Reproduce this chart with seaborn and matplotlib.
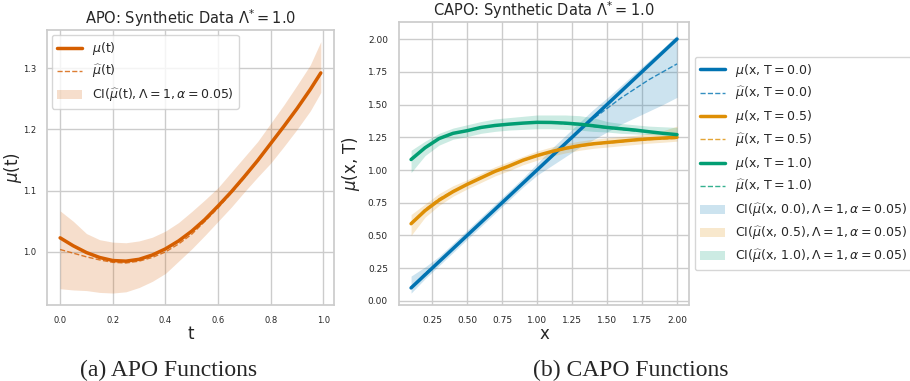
import numpy as np
import pandas as pd
import matplotlib
matplotlib.use('Agg')
import matplotlib.pyplot as plt
import seaborn as sns

# APO panel
t_vals = [0.00, 0.05, 0.10, 0.15, 0.20, 0.25, 0.30, 0.35, 0.40, 0.45, 0.50,
          0.55, 0.60, 0.65, 0.70, 0.75, 0.80, 0.85, 0.90, 0.95, 0.99]
apo_mu = [1.023, 1.010, 0.999, 0.991, 0.986, 0.985, 0.988, 0.995, 1.005, 1.018, 1.034,
          1.053, 1.075, 1.098, 1.123, 1.149, 1.177, 1.205, 1.234, 1.265, 1.292]
apo_mu_hat = [1.004, 0.998, 0.992, 0.987, 0.983, 0.982, 0.985, 0.991, 1.000, 1.013, 1.029,
              1.050, 1.072, 1.096, 1.121, 1.148, 1.176, 1.204, 1.233, 1.265, 1.291]
apo_ci_low = [0.940, 0.938, 0.937, 0.934, 0.933, 0.935, 0.942, 0.952, 0.965, 0.985, 1.005,
              1.027, 1.050, 1.073, 1.098, 1.122, 1.145, 1.172, 1.200, 1.230, 1.260]
apo_ci_high = [1.067, 1.050, 1.030, 1.020, 1.016, 1.015, 1.018, 1.024, 1.034, 1.048, 1.066,
               1.085, 1.105, 1.130, 1.155, 1.180, 1.210, 1.240, 1.272, 1.305, 1.343]

# CAPO panel
x_vals = [0.1, 0.2, 0.3, 0.4, 0.5, 0.6, 0.7, 0.8, 0.9, 1.0,
          1.1, 1.2, 1.3, 1.4, 1.5, 1.6, 1.7, 1.8, 1.9, 2.0]
treatments = ['0.0', '0.5', '1.0']
capo_mu = {
    '0.0': [0.10, 0.20, 0.30, 0.40, 0.50, 0.60, 0.70, 0.80, 0.90, 1.00,
            1.10, 1.20, 1.30, 1.40, 1.50, 1.60, 1.70, 1.80, 1.90, 2.00],
    '0.5': [0.59, 0.69, 0.77, 0.835, 0.89, 0.94, 0.99, 1.03, 1.075, 1.11,
            1.14, 1.165, 1.185, 1.20, 1.21, 1.22, 1.23, 1.238, 1.244, 1.25],
    '1.0': [1.08, 1.17, 1.24, 1.28, 1.30, 1.325, 1.34, 1.35, 1.358, 1.364,
            1.363, 1.358, 1.35, 1.338, 1.325, 1.315, 1.305, 1.292, 1.28, 1.27],
}
capo_mu_hat = {
    '0.0': [0.10, 0.21, 0.30, 0.40, 0.50, 0.60, 0.70, 0.80, 0.90, 1.00,
            1.10, 1.20, 1.30, 1.39, 1.47, 1.55, 1.62, 1.69, 1.75, 1.81],
    '0.5': [0.59, 0.70, 0.78, 0.84, 0.89, 0.945, 0.99, 1.03, 1.07, 1.11,
            1.14, 1.16, 1.18, 1.195, 1.205, 1.215, 1.225, 1.232, 1.238, 1.24],
    '1.0': [1.08, 1.17, 1.24, 1.28, 1.30, 1.325, 1.34, 1.35, 1.358, 1.362,
            1.36, 1.353, 1.343, 1.332, 1.32, 1.31, 1.298, 1.29, 1.28, 1.272],
}
capo_ci_low = {
    '0.0': [0.06, 0.17, 0.27, 0.37, 0.47, 0.57, 0.67, 0.77, 0.87, 0.96,
            1.03, 1.10, 1.17, 1.23, 1.29, 1.35, 1.40, 1.45, 1.50, 1.555],
    '0.5': [0.50, 0.64, 0.73, 0.80, 0.855, 0.905, 0.955, 0.995, 1.04, 1.075,
            1.105, 1.13, 1.15, 1.165, 1.175, 1.185, 1.195, 1.205, 1.212, 1.22],
    '1.0': [0.98, 1.11, 1.19, 1.235, 1.255, 1.28, 1.295, 1.305, 1.31, 1.315,
            1.315, 1.31, 1.305, 1.295, 1.29, 1.28, 1.275, 1.27, 1.265, 1.265],
}
capo_ci_high = {
    '0.0': [0.19, 0.26, 0.34, 0.44, 0.54, 0.64, 0.74, 0.84, 0.94, 1.05,
            1.16, 1.26, 1.36, 1.46, 1.55, 1.645, 1.74, 1.835, 1.93, 2.03],
    '0.5': [0.66, 0.74, 0.82, 0.88, 0.925, 0.975, 1.025, 1.065, 1.105, 1.145,
            1.175, 1.20, 1.22, 1.235, 1.245, 1.255, 1.265, 1.28, 1.30, 1.335],
    '1.0': [1.15, 1.22, 1.28, 1.32, 1.345, 1.37, 1.39, 1.40, 1.41, 1.42,
            1.42, 1.42, 1.415, 1.40, 1.37, 1.355, 1.345, 1.335, 1.33, 1.325],
}

sns.set_theme(style='whitegrid')
plt.rcParams['font.family'] = ['DejaVu Sans']

cb = sns.color_palette('colorblind')
capo_colors = {'0.0': cb[0], '0.5': cb[1], '1.0': cb[2]}
apo_color = cb[3]

fig = plt.figure(figsize=(9.1, 3.81), dpi=100)
ax1 = fig.add_axes([0.0516, 0.1995, 0.3154, 0.7218])
ax2 = fig.add_axes([0.4385, 0.1995, 0.3187, 0.7428])

# APO
df_apo = pd.DataFrame({'t': t_vals, 'mu': apo_mu, 'mu_hat': apo_mu_hat})
sns.lineplot(data=df_apo, x='t', y='mu', ax=ax1, color=apo_color, lw=2.5,
             label=r'$\mu$(t)')
sns.lineplot(data=df_apo, x='t', y='mu_hat', ax=ax1, color=apo_color, lw=1.0,
             linestyle='--', alpha=0.8, label=r'$\widehat{\mu}$(t)')
ax1.fill_between(t_vals, apo_ci_low, apo_ci_high, color=apo_color, alpha=0.2, lw=0,
                 label=r'CI($\widehat{\mu}$(t)$,\Lambda=1,\alpha=0.05$)')
ax1.set_xlim(-0.05, 1.04)
ax1.set_ylim(0.9135, 1.362)
ax1.set_xticks([0.0, 0.2, 0.4, 0.6, 0.8, 1.0])
ax1.set_yticks([1.0, 1.1, 1.2, 1.3])
ax1.tick_params(labelsize=6, pad=2)
ax1.set_xlabel('t', fontsize=12, labelpad=0)
ax1.set_ylabel(r'$\mu$(t)', fontsize=12)
ax1.yaxis.set_label_coords(-0.08, 0.5)
ax1.set_title(r'APO: Synthetic Data $\Lambda^{*}=1.0$', fontsize=10.5, pad=4)
ax1.legend(loc='upper left', fontsize=9, borderaxespad=0.4)

# CAPO
for tr in treatments:
    df_tr = pd.DataFrame({'x': x_vals, 'mu': capo_mu[tr], 'mu_hat': capo_mu_hat[tr]})
    sns.lineplot(data=df_tr, x='x', y='mu', ax=ax2, color=capo_colors[tr], lw=2.5,
                 label=r'$\mu$(x, T$=$' + tr + ')')
    sns.lineplot(data=df_tr, x='x', y='mu_hat', ax=ax2, color=capo_colors[tr], lw=1.0,
                 linestyle='--', alpha=0.8, label=r'$\widehat{\mu}$(x, T$=$' + tr + ')')
for tr in treatments:
    ax2.fill_between(x_vals, capo_ci_low[tr], capo_ci_high[tr], color=capo_colors[tr],
                     alpha=0.2, lw=0,
                     label=r'CI($\widehat{\mu}$(x, ' + tr + r')$,\Lambda=1,\alpha=0.05$)')
ax2.set_xlim(0.014, 2.086)
ax2.set_ylim(-0.0305, 2.13)
ax2.set_xticks([0.25, 0.5, 0.75, 1.0, 1.25, 1.5, 1.75, 2.0])
ax2.set_yticks([0.0, 0.25, 0.5, 0.75, 1.0, 1.25, 1.5, 1.75, 2.0])
ax2.xaxis.set_major_formatter(matplotlib.ticker.FormatStrFormatter('%.2f'))
ax2.yaxis.set_major_formatter(matplotlib.ticker.FormatStrFormatter('%.2f'))
ax2.tick_params(labelsize=6.5, pad=2)
ax2.set_xlabel('x', fontsize=12, labelpad=0)
ax2.set_ylabel(r'$\mu$(x, T)', fontsize=12)
ax2.yaxis.set_label_coords(-0.128, 0.5)
ax2.set_title(r'CAPO: Synthetic Data $\Lambda^{*}=1.0$', fontsize=10.5, pad=4)
ax2.legend(loc='center left', bbox_to_anchor=(1.02, 0.5), fontsize=9, borderaxespad=0)

fig.text(0.185, 0.012, '(a) APO Functions', family='Liberation Serif', fontsize=17,
         ha='center', va='baseline')
fig.text(0.693, 0.012, '(b) CAPO Functions', family='Liberation Serif', fontsize=17,
         ha='center', va='baseline')

fig.savefig('out.png', dpi=100)
